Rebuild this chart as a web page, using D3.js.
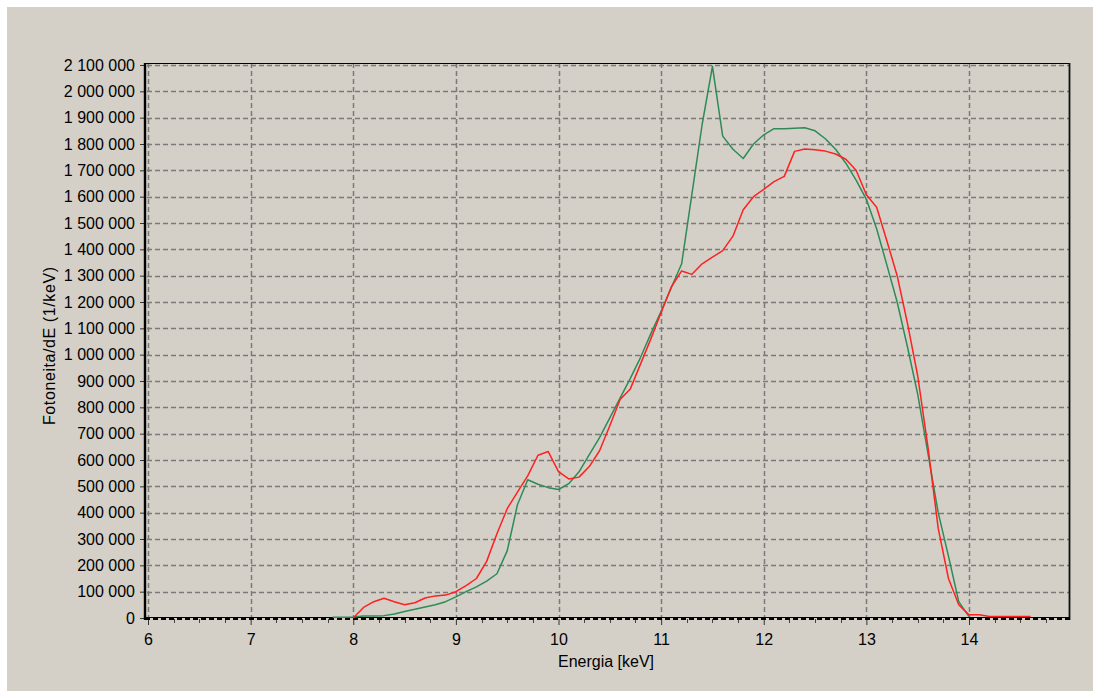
<!DOCTYPE html>
<html>
<head>
<meta charset="utf-8">
<script src="https://cdn.jsdelivr.net/npm/d3@7"></script>
<style>
  html, body { margin: 0; padding: 0; background: #ffffff; }
  svg { display: block; }
  text { font-family: "Liberation Sans", Arial, sans-serif; fill: #000; }
</style>
</head>
<body>
<svg id="chart" width="1093" height="691"></svg>
<script>
// Photon spectra: photons per energy bin (1/keV) against energy (keV)
const greenEnergy = [7.8, 7.9, 8.0, 8.1, 8.2, 8.3, 8.4, 8.5, 8.6, 8.7, 8.8, 8.9,
  9.0, 9.1, 9.2, 9.3, 9.4, 9.5, 9.6, 9.7, 9.8, 9.9, 10.0, 10.1, 10.2, 10.3, 10.4,
  10.5, 10.6, 10.7, 10.8, 10.9, 11.0, 11.1, 11.2, 11.3, 11.4, 11.5, 11.6, 11.7,
  11.8, 11.9, 12.0, 12.1, 12.2, 12.3, 12.4, 12.5, 12.6, 12.7, 12.8, 12.9, 13.0,
  13.1, 13.2, 13.3, 13.4, 13.5, 13.6, 13.7, 13.8, 13.9, 14.0];
const greenCounts = [3000, 3000, 4000, 8000, 8000, 9000, 15000, 25000, 33000, 42000,
  50000, 62000, 80000, 100000, 118000, 140000, 168000, 255000, 430000, 525000,
  508000, 495000, 488000, 510000, 555000, 620000, 685000, 760000, 835000, 910000,
  990000, 1080000, 1165000, 1255000, 1345000, 1610000, 1875000, 2095000, 1830000,
  1780000, 1745000, 1800000, 1835000, 1858000, 1858000, 1860000, 1862000, 1850000,
  1820000, 1780000, 1727000, 1663000, 1590000, 1478000, 1340000, 1200000, 1030000,
  850000, 625000, 400000, 235000, 62000, 5000];

const redEnergy = [8.0, 8.1, 8.2, 8.3, 8.4, 8.5, 8.6, 8.7, 8.8, 8.9, 9.0, 9.1, 9.2,
  9.3, 9.4, 9.5, 9.6, 9.7, 9.8, 9.9, 10.0, 10.1, 10.2, 10.3, 10.4, 10.5, 10.6, 10.7,
  10.8, 10.9, 11.0, 11.1, 11.2, 11.3, 11.4, 11.5, 11.6, 11.7, 11.8, 11.9, 12.0, 12.1,
  12.2, 12.3, 12.4, 12.5, 12.6, 12.7, 12.8, 12.9, 13.0, 13.1, 13.2, 13.3, 13.4, 13.5,
  13.6, 13.7, 13.8, 13.9, 14.0, 14.1, 14.2, 14.3, 14.4, 14.5, 14.6];
const redCounts = [0, 40000, 62000, 75000, 62000, 50000, 58000, 76000, 84000, 87000,
  100000, 123000, 150000, 215000, 320000, 415000, 478000, 540000, 618000, 632000,
  556000, 528000, 535000, 575000, 635000, 730000, 830000, 870000, 965000, 1060000,
  1160000, 1258000, 1318000, 1305000, 1345000, 1370000, 1395000, 1450000, 1550000,
  1600000, 1628000, 1657000, 1677000, 1772000, 1781000, 1778000, 1773000, 1762000,
  1742000, 1700000, 1607000, 1560000, 1432000, 1300000, 1120000, 920000, 650000,
  340000, 150000, 50000, 12000, 12000, 6000, 6000, 6000, 6000, 6000];

const xTicks = [6, 7, 8, 9, 10, 11, 12, 13, 14];
const xMinorTicks = d3.range(6, 14.76, 0.25);
const yTicks = d3.range(0, 2100001, 100000);

const xTitle = "Energia [keV]";
const yTitle = "Fotoneita/dE (1/keV)";

const svg = d3.select("#chart");

// panel background
svg.append("rect").attr("x", 7).attr("y", 7).attr("width", 1086).attr("height", 684)
  .attr("fill", "#d4d0c8");

const x = d3.scaleLinear().domain([6, 14]).range([148, 969]);
const y = d3.scaleLinear().domain([0, 2100000]).range([618, 65]);

const frame = { left: 145, right: 1069, top: 63, bottom: 618 };

// number format with spaces as thousands separator
const fmt = v => d3.format(",")(v).replace(/,/g, " ");

// grid
const grid = svg.append("g").attr("stroke", "#7a7a7a").attr("stroke-width", 1.5)
  .attr("stroke-dasharray", "5,3").attr("fill", "none");
grid.selectAll("line.h").data(yTicks.filter(d => d > 0)).join("line")
  .attr("x1", frame.left + 2).attr("x2", frame.right)
  .attr("y1", d => Math.round(y(d)) + 0.5).attr("y2", d => Math.round(y(d)) + 0.5);
grid.selectAll("line.v").data(xTicks).join("line")
  .attr("x1", d => Math.round(x(d)) + 0.5).attr("x2", d => Math.round(x(d)) + 0.5)
  .attr("y1", frame.top).attr("y2", frame.bottom);

// frame: top and right borders
svg.append("line").attr("x1", frame.left).attr("x2", frame.right + 1)
  .attr("y1", frame.top + 0.5).attr("y2", frame.top + 0.5)
  .attr("stroke", "#000").attr("stroke-width", 1.2);
svg.append("line").attr("x1", frame.right + 0.5).attr("x2", frame.right + 0.5)
  .attr("y1", frame.top).attr("y2", frame.bottom + 2)
  .attr("stroke", "#111").attr("stroke-width", 1.8);

// y axis
const yAxis = d3.axisLeft(y).tickValues(yTicks).tickFormat(fmt).tickSize(5).tickPadding(5);
const gy = svg.append("g").attr("transform", `translate(${frame.left},0)`).call(yAxis);
gy.select(".domain").remove();
gy.selectAll(".tick line").attr("stroke", "#333");
gy.selectAll(".tick text").attr("font-size", 16).attr("font-family", "Liberation Sans, Arial, sans-serif")
  .attr("fill", "#111");
svg.append("line").attr("x1", frame.left).attr("x2", frame.left)
  .attr("y1", frame.top).attr("y2", frame.bottom + 2)
  .attr("stroke", "#000").attr("stroke-width", 2.4);

// x axis
const xAxis = d3.axisBottom(x).tickValues(xTicks).tickFormat(d3.format("d")).tickSize(6).tickPadding(9);
const gx = svg.append("g").attr("transform", `translate(0,${frame.bottom + 1})`).call(xAxis);
gx.select(".domain").remove();
gx.selectAll(".tick line").attr("stroke", "#333");
gx.selectAll(".tick text").attr("font-size", 16).attr("font-family", "Liberation Sans, Arial, sans-serif")
  .attr("fill", "#111");
svg.append("g").selectAll("line").data(xMinorTicks.filter(d => !xTicks.includes(d))).join("line")
  .attr("x1", d => Math.round(x(d)) + 0.5).attr("x2", d => Math.round(x(d)) + 0.5)
  .attr("y1", frame.bottom + 1).attr("y2", frame.bottom + 5)
  .attr("stroke", "#444");

// bottom axis line: solid edge with dashed band
svg.append("line").attr("x1", frame.left).attr("x2", frame.right + 1)
  .attr("y1", frame.bottom - 0.5).attr("y2", frame.bottom - 0.5)
  .attr("stroke", "#000").attr("stroke-width", 1);
svg.append("line").attr("x1", frame.left).attr("x2", frame.right + 1)
  .attr("y1", frame.bottom + 1).attr("y2", frame.bottom + 1)
  .attr("stroke", "#000").attr("stroke-width", 2).attr("stroke-dasharray", "5,3");

// series
const line = d3.line().x(d => x(d[0])).y(d => y(d[1]));
const series = [
  { e: greenEnergy, c: greenCounts, color: "#2e8b57" },
  { e: redEnergy, c: redCounts, color: "#ff2020" }
];
svg.append("g").selectAll("path").data(series).join("path")
  .attr("d", s => line(s.e.map((e, i) => [e, s.c[i]])))
  .attr("fill", "none").attr("stroke", s => s.color).attr("stroke-width", 1.5)
  .attr("stroke-linejoin", "round");

// titles
svg.append("text").attr("x", 606).attr("y", 667).attr("text-anchor", "middle")
  .attr("font-size", 16).attr("fill", "#111").text(xTitle);
svg.append("text").attr("transform", "translate(55,346) rotate(-90)")
  .attr("text-anchor", "middle").attr("font-size", 16).attr("fill", "#111")
  .attr("textLength", 158).attr("lengthAdjust", "spacing").text(yTitle);
</script>
</body>
</html>
